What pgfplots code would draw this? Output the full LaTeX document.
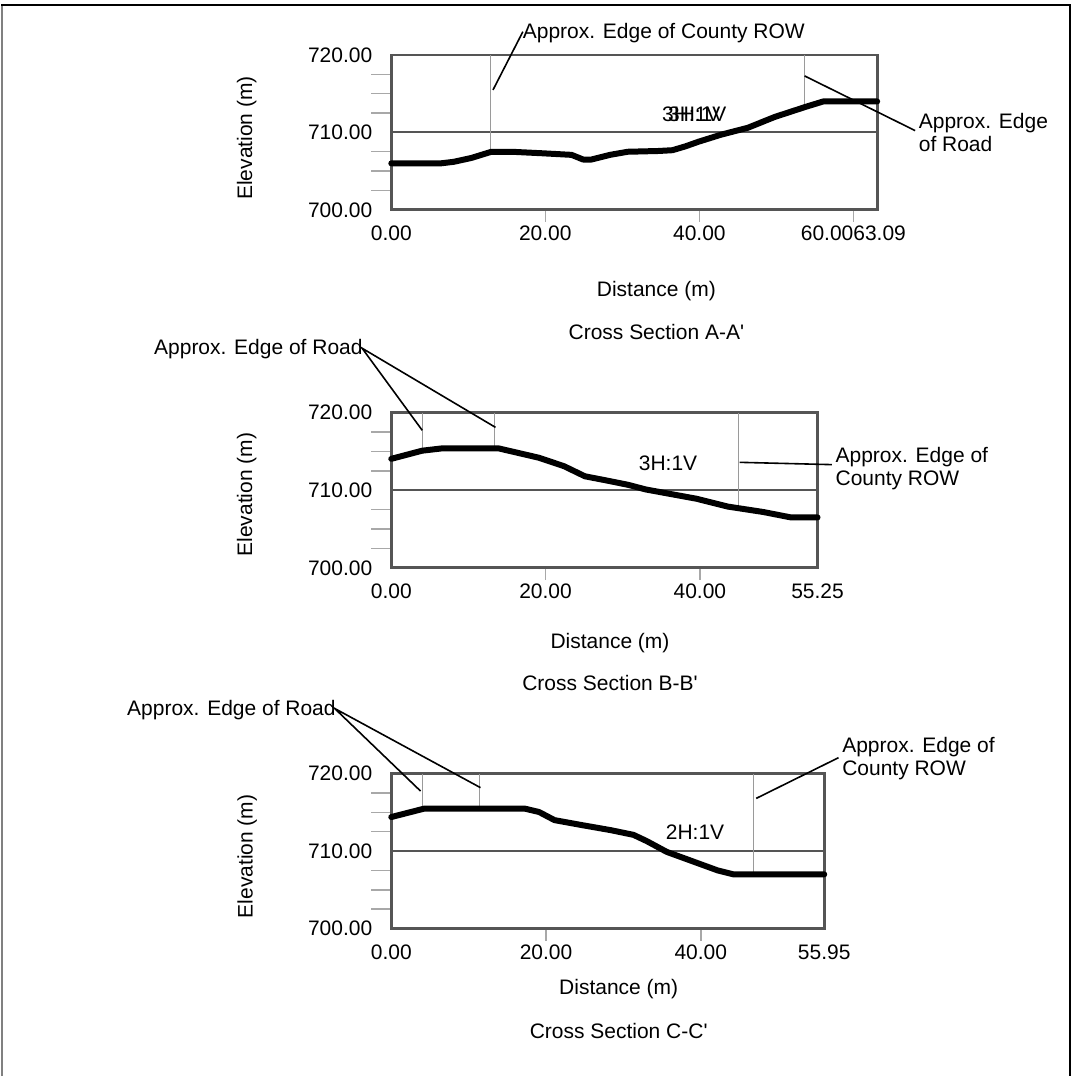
\documentclass[border=0pt]{standalone}
\usepackage{fontspec}
\setmainfont{Liberation Sans}[Ligatures=TeXOff]
\usepackage{pgfplots}
\pgfplotsset{compat=1.18}
\definecolor{boxgray}{HTML}{555555}
\definecolor{tickgray}{HTML}{A8A8A8}
\definecolor{markgray}{HTML}{9A9A9A}
\newcommand{\fs}{\fontsize{10.5}{12}\selectfont}
\pgfplotsset{
 xsec/.style={
  scale only axis,
  font=\fs,
  axis line style={boxgray, line width=1.4pt},
  ymin=700, ymax=720,
  ytick={700,710,720}, yticklabels={700.00,710.00,720.00},
  minor y tick num=3,
  minor x tick num=0,
  xtick pos=bottom, ytick pos=left,
  tick align=outside,
  major tick length=6pt, minor tick length=10pt,
  major y tick style={draw=none},
  minor y tick style={draw=tickgray, line width=0.7pt},
  major x tick style={draw=tickgray, line width=0.7pt},
  ymajorgrids=true,
  major grid style={boxgray, line width=1pt},
  extra x tick style={major x tick style={draw=none}},
  xticklabel style={yshift=1.5pt},
  clip=false,
 },
 prof/.style={black, line width=3pt, line cap=round, line join=round},
 mk/.style={markgray, line width=0.5pt},
}
\begin{document}
\begin{tikzpicture}
\begin{scope}[x=0.5pt,y=-0.5pt]
\useasboundingbox (0,0) rectangle (1078,1077);
\coordinate (PA) at (390.7,210);
\coordinate (PB) at (390.7,568.3);
\coordinate (PC) at (390.7,929.3);
\end{scope}

% ---------- Cross Section A-A'
\begin{axis}[xsec, at={(PA)}, anchor=south west,
  width=243.15pt, height=77.5pt,
  xmin=0, xmax=63.09,
  xtick={20,40,60}, xticklabels={20.00,40.00,60.0063.09},
  extra x ticks={0}, extra x tick labels={0.00}]
\addplot[mk] coordinates {(12.9,720) (12.9,707.5)};
\addplot[mk] coordinates {(53.7,720) (53.7,713.3)};
\addplot[prof] coordinates {
(0,706.0) (6.4,706.0) (8.1,706.2) (10.4,706.7) (13.0,707.5) (15.6,707.5)
(19.7,707.3) (23.4,707.1) (24.9,706.5) (26.0,706.5) (28.4,707.1) (30.7,707.5)
(34.7,707.6) (36.5,707.7) (38.2,708.2) (39.9,708.8) (42.8,709.7) (46.3,710.6)
(49.8,712.0) (53.8,713.3) (56.1,714.0) (63.09,714.0)};
\end{axis}

% ---------- Cross Section B-B'
\begin{axis}[xsec, at={(PB)}, anchor=south west,
  width=213.3pt, height=77.65pt,
  xmin=0, xmax=55.25,
  xtick={20,40}, xticklabels={20.00,40.00},
  extra x ticks={0,55.25}, extra x tick labels={0.00,55.25}]
\addplot[mk] coordinates {(4.1,720) (4.1,715.1)};
\addplot[mk] coordinates {(13.4,720) (13.4,715.4)};
\addplot[mk] coordinates {(45.0,720) (45.0,707.7)};
\addplot[prof] coordinates {
(0,714.05) (4.0,715.1) (6.6,715.4) (13.9,715.4) (16.5,714.8) (19.1,714.2)
(22.4,713.1) (25.1,711.8) (27.7,711.3) (30.7,710.7) (33.0,710.1) (36.3,709.5)
(39.6,708.9) (43.6,707.9) (48.2,707.2) (51.8,706.5) (55.25,706.5)};
\end{axis}

% ---------- Cross Section C-C'
\begin{axis}[xsec, at={(PC)}, anchor=south west,
  width=216.65pt, height=77.5pt,
  xmin=0, xmax=55.95,
  xtick={20,40}, xticklabels={20.00,40.00},
  extra x ticks={0,55.95}, extra x tick labels={0.00,55.95}]
\addplot[mk] coordinates {(4.0,720) (4.0,715.4)};
\addplot[mk] coordinates {(11.4,720) (11.4,715.5)};
\addplot[mk] coordinates {(46.8,720) (46.8,707.0)};
\addplot[prof] coordinates {
(0.0,714.4) (4.3,715.5) (17.2,715.5) (19.1,715.05) (21.1,714.0) (24.4,713.4)
(28.4,712.7) (31.3,712.1) (33.0,711.3) (35.6,709.9) (38.9,708.7) (42.2,707.5)
(44.2,707.0) (55.95,707.0)};
\end{axis}

\begin{scope}[x=0.5pt,y=-0.5pt, every node/.style={font=\fs, inner sep=0pt}]
% frame
\draw[gray, line width=0.8pt] (1,1077) -- (1,5);
\draw[black, line width=1.4pt] (0.5,5) -- (1070,5) -- (1070,1077);

% axis titles
\node[rotate=90] at (246,138) {Elevation (m)};
\node at (656,291) {Distance (m)};
\node at (656,332) {Cross Section A-A'};
\node[rotate=90] at (246,495) {Elevation (m)};
\node at (609.6,644) {Distance (m)};
\node at (609.6,684) {Cross Section B-B'};
\node[rotate=90] at (246.6,857) {Elevation (m)};
\node at (618.3,990) {Distance (m)};
\node at (618.3,1032) {Cross Section C-C'};

% slope labels
\node at (691,114) {3H:1V};
\node at (697,114) {3H:1V};
\node at (667.7,464) {3H:1V};
\node at (694.7,832.7) {2H:1V};

% annotations A
\node[anchor=base west] at (522,39) {Approx. Edge of County ROW};
\draw[black, line width=0.8pt] (522.4,31.7) -- (492.5,90);
\node[anchor=base west] at (918.3,128.3) {Approx. Edge};
\node[anchor=base west] at (918.3,151.7) {of Road};
\draw[black, line width=0.8pt] (804.4,76) -- (915,130.7);

% annotations B
\node[anchor=base west] at (153,355) {Approx. Edge of Road};
\draw[black, line width=0.8pt] (421.7,430.7) -- (361.5,348.5) -- (495,427.7);
\node[anchor=base west] at (835,462.7) {Approx. Edge of};
\node[anchor=base west] at (835,486) {County ROW};
\draw[black, line width=0.8pt] (739.3,462.7) -- (831.7,465);

% annotations C
\node[anchor=base west] at (126,715.7) {Approx. Edge of Road};
\draw[black, line width=0.8pt] (420,791.7) -- (334,709) -- (480,788.3);
\node[anchor=base west] at (841.7,752.7) {Approx. Edge of};
\node[anchor=base west] at (841.7,776) {County ROW};
\draw[black, line width=0.8pt] (838.3,758.3) -- (756,799);
\end{scope}
\end{tikzpicture}
\end{document}
